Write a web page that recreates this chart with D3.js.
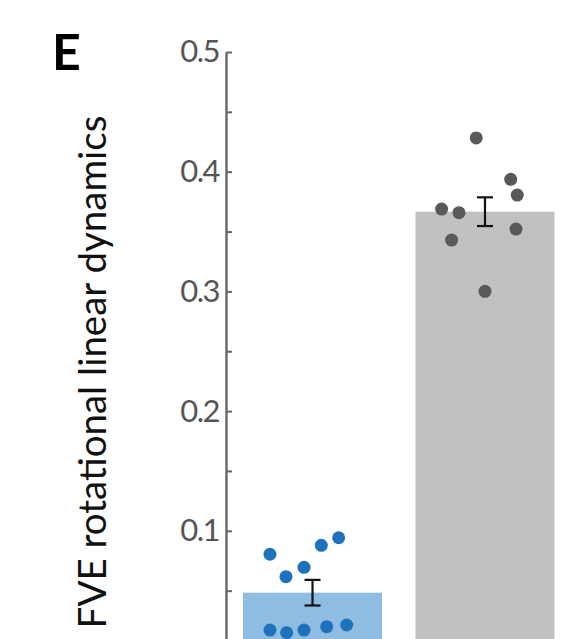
<!DOCTYPE html>
<html>
<head>
<meta charset="utf-8">
<script src="https://cdn.jsdelivr.net/npm/d3@7"></script>
<style>
  html, body { margin: 0; padding: 0; background: #fff; }
  svg { display: block; }
  text { font-family: Lato, "Open Sans", sans-serif; }
</style>
</head>
<body>
<svg id="chart" width="572" height="639"></svg>
<script>
// ---- data ----
const categories = ["rotational", "linear"];
const barMeans = [0.0483, 0.3666];
const barSEM = [0.0107, 0.0120];
const blueDots = [0.0804, 0.0617, 0.0695, 0.0879, 0.0942, 0.0171, 0.0149, 0.0171, 0.0199, 0.0213];
const blueJitter = [-0.306, -0.191, -0.061, 0.063, 0.188, -0.306, -0.186, -0.061, 0.102, 0.246];
const grayDots = [0.4282, 0.3936, 0.3805, 0.3688, 0.3658, 0.3521, 0.3429, 0.3001];
const grayJitter = [-0.063, 0.185, 0.232, -0.312, -0.187, 0.223, -0.240, 0.0];
const tickValues = [0, 0.05, 0.1, 0.15, 0.2, 0.25, 0.3, 0.35, 0.4, 0.45, 0.5];
const tickLabels = ["", "", "0.1", "", "0.2", "", "0.3", "", "0.4", "", "0.5"];
const yTitle = "FVE rotational linear dynamics";
const panelLabel = "E";

// ---- layout ----
const svg = d3.select("#chart");
const axisX = 226;
const y = d3.scaleLinear().domain([0, 0.5]).range([650.5, 52]);
const x = d3.scaleBand().domain(categories).range([axisX, 571.5])
  .paddingInner(0.194).paddingOuter(0.0986);

const barFill = ["#8fbde1", "#c1c1c3"];
const dotFill = ["#1d72bb", "#595959"];
const dotSets = [blueDots, grayDots];
const jitterSets = [blueJitter, grayJitter];

// bars
svg.append("g").selectAll("rect").data(categories).join("rect")
  .attr("x", d => x(d))
  .attr("width", x.bandwidth())
  .attr("y", (d, i) => y(barMeans[i]))
  .attr("height", (d, i) => y(0) - y(barMeans[i]))
  .attr("fill", (d, i) => barFill[i]);

// dots
categories.forEach((c, i) => {
  const cx = x(c) + x.bandwidth() / 2;
  svg.append("g").selectAll("circle").data(dotSets[i]).join("circle")
    .attr("cx", (d, j) => cx + jitterSets[i][j] * x.bandwidth())
    .attr("cy", d => y(d))
    .attr("r", 6.5)
    .attr("fill", dotFill[i]);
});

// error bars
categories.forEach((c, i) => {
  const cx = x(c) + x.bandwidth() / 2;
  const g = svg.append("g").attr("stroke", "#111").attr("stroke-width", 2.2);
  const top = y(barMeans[i] + barSEM[i]);
  const bot = y(barMeans[i] - barSEM[i]);
  g.append("line").attr("x1", cx).attr("x2", cx).attr("y1", top).attr("y2", bot);
  g.append("line").attr("x1", cx - 8).attr("x2", cx + 8).attr("y1", top).attr("y2", top);
  g.append("line").attr("x1", cx - 8).attr("x2", cx + 8).attr("y1", bot).attr("y2", bot);
});

// axis
const axis = d3.axisLeft(y)
  .tickValues(tickValues)
  .tickFormat((d, i) => tickLabels[i])
  .tickSizeInner(-6)
  .tickSizeOuter(0)
  .tickPadding(7);
const ag = svg.append("g").attr("transform", `translate(${axisX},0)`).call(axis);
ag.select(".domain").attr("stroke", "#666").attr("stroke-width", 2.4);
ag.selectAll(".tick line").attr("stroke", "#666").attr("stroke-width", 2);
ag.selectAll(".tick text")
  .attr("fill", "#555")
  .style("font-size", "31px")
  .style("letter-spacing", "-1.5px")
  .style("font-family", "Lato, sans-serif");

// y title
svg.append("text")
  .attr("transform", `translate(106,372) rotate(-90)`)
  .attr("text-anchor", "middle")
  .attr("fill", "#111")
  .style("font-size", "38.5px")
  .text(yTitle);

// panel label
svg.append("text")
  .attr("x", 52)
  .attr("y", 70)
  .attr("fill", "#000")
  .style("font-size", "50px")
  .style("font-weight", "700")
  .text(panelLabel);
</script>
</body>
</html>
